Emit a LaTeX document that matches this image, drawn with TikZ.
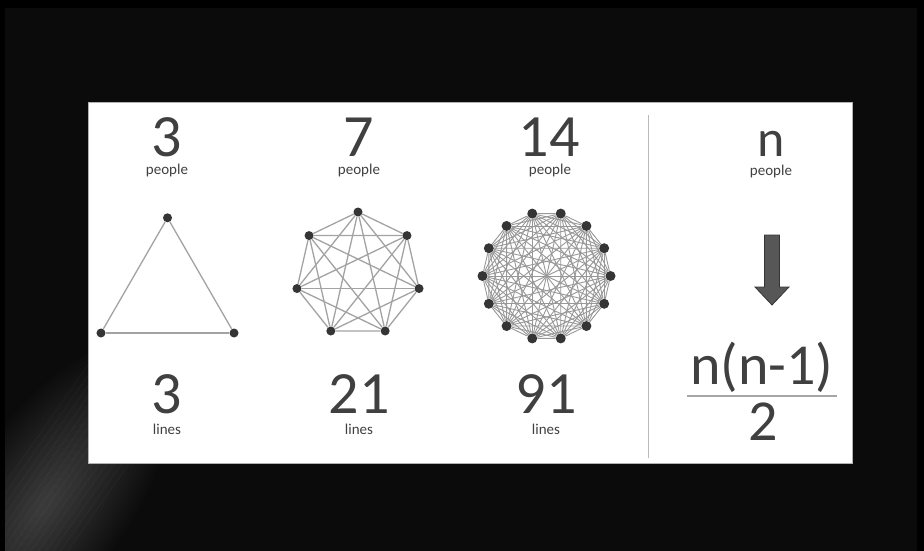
\documentclass[tikz,border=0pt]{standalone}
\usepackage{fontspec}
\setmainfont{Carlito}

\definecolor{fondo}{HTML}{0B0B0B}
\definecolor{texto}{HTML}{404040}
\definecolor{vertice}{HTML}{353535}
\definecolor{linea}{HTML}{A3A3A3}
\definecolor{mallagris}{HTML}{989898}
\definecolor{flechagris}{HTML}{575757}

\begin{document}
\begin{tikzpicture}[x=1pt, y=-1pt,
	cifra/.style={anchor=base, text=texto, inner sep=0pt, font=\fontsize{60}{60}\selectfont},
	letrero/.style={anchor=base, text=texto, inner sep=0pt, font=\fontsize{15}{15}\selectfont},
	formula/.style={anchor=base, text=texto, inner sep=0pt, font=\fontsize{58}{58}\selectfont},
	vertice/.style={circle, fill=vertice, minimum size=9pt, inner sep=0pt},
	arista/.style={draw=linea, line width=1.3pt},
	malla/.style={draw=mallagris, line width=0.9pt}]

\useasboundingbox (0,0) rectangle (924,551);

% Fondo
\fill[black] (0,0) rectangle (924,551);
\fill[fondo] (5,8) rectangle (917,551);
\begin{scope}
	\clip (5,8) rectangle (917,551);
	\begin{scope}[shift={(45,505)}, rotate=55]
		\foreach \s in {2,...,24}
			\fill[white, opacity=0.013] (0,0) ellipse [x radius=8*\s, y radius=3.4*\s];
		\foreach \d in {-45,-39,...,45}
			\draw[white, opacity=0.025, line width=1.2pt] (-170,\d) -- (170,\d);
	\end{scope}
\end{scope}

% Panel
\fill[white, draw=gray!60, line width=0.6pt] (88,102) rectangle (852,463);
\draw[gray!55, line width=1pt] (648,115) -- (648,458);

% Cifras
\node[cifra] (p3) at (167,156) {3};
\node[letrero] (pp3) at (167,174) {people};
\node[cifra] (p7) at (359,156) {7};
\node[letrero] (pp7) at (359,174) {people};
\node[cifra] (p14) at (549,156) {14};
\node[letrero] (pp14) at (550,174) {people};

\node[cifra] (l3) at (167,413) {3};
\node[letrero] (ll3) at (167,434) {lines};
\node[cifra] (l21) at (359,413) {21};
\node[letrero] (ll21) at (359,434) {lines};
\node[cifra] (l91) at (546,413) {91};
\node[letrero] (ll91) at (546,434) {lines};

% Triangulo
\begin{scope}[shift={(167.5,294.6)}]
	\foreach \k in {0,1,2}
		\node[vertice] (t\k) at ({-90+120*\k}:76.8) {};
	\foreach \a/\b in {0/1,1/2,0/2}
		\draw[arista] (t\a) -- (t\b);
\end{scope}

% Heptagono
\begin{scope}[shift={(358,274.6)}]
	\foreach \k in {0,...,6}
		\node[vertice] (h\k) at ({-90+360/7*\k}:62.6) {};
	\foreach \a in {0,...,5}{
		\pgfmathtruncatemacro\s{\a+1}
		\foreach \b in {\s,...,6}
			\draw[arista] (h\a) -- (h\b);
	}
\end{scope}

% Catorce
\begin{scope}[shift={(546.5,276)}]
	\foreach \k in {0,...,13}
		\node[vertice, minimum size=10pt] (c\k) at ({360/14*\k}:64) {};
	\foreach \a in {0,...,12}{
		\pgfmathtruncatemacro\s{\a+1}
		\foreach \b in {\s,...,13}
			\draw[malla] (c\a) -- (c\b);
	}
\end{scope}

% Formula
\node[cifra, font=\fontsize{52}{52}\selectfont] (n) at (771,156) {n};
\node[letrero] (pn) at (771,175) {people};
\draw[fill=flechagris, draw=vertice, line width=0.8pt]
	(764.5,235) -- (779.5,235) -- (779.5,287) -- (789,287) -- (772,305) -- (755,287) -- (764.5,287) -- cycle;
\node[formula] (num) at (762,384) {n(n-1)};
\node[formula] (den) at (763,440) {2};
\draw[gray!70, line width=1.2pt] (687,396) -- (837,396);
\end{tikzpicture}
\end{document}
